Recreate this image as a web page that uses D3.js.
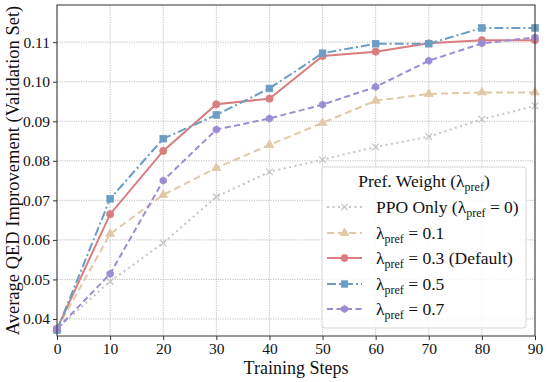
<!DOCTYPE html>
<html>
<head>
<meta charset="utf-8">
<script src="https://cdn.jsdelivr.net/npm/d3@7"></script>
<style>
body { margin: 0; background: #fff; }
text { font-family: "Liberation Serif", "DejaVu Serif", serif; fill: #111; }
</style>
</head>
<body>
<svg></svg>
<script>
var steps = [0, 10, 20, 30, 40, 50, 60, 70, 80, 90];
var ppoOnly = [0.0375, 0.0495, 0.0592, 0.0709, 0.0772, 0.0803, 0.0835, 0.0861, 0.0905, 0.0939];
var pref01 = [0.0375, 0.0615, 0.0714, 0.0782, 0.0840, 0.0896, 0.0952, 0.0969, 0.0973, 0.0973];
var pref03 = [0.0375, 0.0665, 0.0825, 0.0943, 0.0957, 0.1065, 0.1076, 0.1097, 0.1105, 0.1105];
var pref05 = [0.0372, 0.0704, 0.0856, 0.0916, 0.0983, 0.1072, 0.1096, 0.1096, 0.1136, 0.1136];
var pref07 = [0.0375, 0.0514, 0.0750, 0.0879, 0.0907, 0.0942, 0.0987, 0.1053, 0.1097, 0.1112];
var xTicks = [0, 10, 20, 30, 40, 50, 60, 70, 80, 90];
var yTicks = [0.04, 0.05, 0.06, 0.07, 0.08, 0.09, 0.10, 0.11];

var series = [
	{ name: 'ppo', values: ppoOnly, color: '#c4c4c4', dash: '2,3.5', marker: 'x', label: ['PPO Only (', '0)'] },
	{ name: 'p01', values: pref01, color: '#e0c9a6', dash: '7,4', marker: 'tri', label: ['', '0.1'] },
	{ name: 'p03', values: pref03, color: '#d97d7f', dash: null, marker: 'circle', label: ['', '0.3 (Default)'] },
	{ name: 'p05', values: pref05, color: '#6c9dc4', dash: '9,3,2,3', marker: 'square', label: ['', '0.5'] },
	{ name: 'p07', values: pref07, color: '#9c8cd3', dash: '6,3.5', marker: 'hex', label: ['', '0.7'] }
];

var width = 548, height = 382;
var padding = { top: 5, bottom: 46, left: 57, right: 13 };

var svg = d3.select('svg').attr('width', width).attr('height', height);

var xScale = d3.scaleLinear().domain([0, 90]).range([padding.left, width - padding.right]);
var yScale = d3.scaleLinear().domain([0.0357, 0.1194]).range([height - padding.bottom, padding.top]);

// grid
var grid = svg.append('g');
grid.selectAll('.gx').data(xTicks).enter().append('line')
	.attr('x1', d => xScale(d)).attr('x2', d => xScale(d))
	.attr('y1', padding.top).attr('y2', height - padding.bottom)
	.attr('stroke', '#b8b8b8').attr('stroke-width', 0.9).attr('stroke-dasharray', '1.2,1.2');
grid.selectAll('.gy').data(yTicks).enter().append('line')
	.attr('x1', padding.left).attr('x2', width - padding.right)
	.attr('y1', d => yScale(d)).attr('y2', d => yScale(d))
	.attr('stroke', '#b8b8b8').attr('stroke-width', 0.9).attr('stroke-dasharray', '1.2,1.2');

// markers
function drawMarker(g, type, color, size) {
	var s = size;
	if (type === 'x') {
		g.append('path').attr('d', 'M' + (-s) + ',' + (-s) + 'L' + s + ',' + s + 'M' + (-s) + ',' + s + 'L' + s + ',' + (-s))
			.attr('stroke', color).attr('stroke-width', 1.2).attr('fill', 'none');
	} else if (type === 'tri') {
		g.append('path').attr('d', d3.symbol(d3.symbolTriangle, 34)()).attr('fill', color).attr('stroke', color).attr('stroke-width', 0.8);
	} else if (type === 'circle') {
		g.append('circle').attr('r', s + 0.3).attr('fill', color).attr('stroke', color).attr('stroke-width', 0.8);
	} else if (type === 'square') {
		g.append('rect').attr('x', -s).attr('y', -s).attr('width', 2 * s).attr('height', 2 * s)
			.attr('fill', color).attr('stroke', color).attr('stroke-width', 0.8);
	} else if (type === 'hex') {
		var pts = d3.range(6).map(function(i) {
			var a = Math.PI / 6 + i * Math.PI / 3;
			return [Math.cos(a) * (s + 0.4), Math.sin(a) * (s + 0.4)];
		});
		g.append('path').attr('d', 'M' + pts.join('L') + 'Z').attr('fill', color).attr('stroke', color).attr('stroke-width', 0.8);
	}
}

var line = d3.line().x((d, i) => xScale(steps[i])).y(d => yScale(d));

var plot = svg.append('g');
series.forEach(function(s) {
	plot.append('path')
		.datum(s.values)
		.attr('d', line)
		.attr('fill', 'none')
		.attr('stroke', s.color)
		.attr('stroke-width', 2)
		.attr('stroke-dasharray', s.dash);
	s.values.forEach(function(v, i) {
		var g = plot.append('g').attr('transform', 'translate(' + xScale(steps[i]) + ',' + yScale(v) + ')');
		drawMarker(g, s.marker, s.color, 3.3);
	});
});

// frame
svg.append('rect')
	.attr('x', padding.left).attr('y', padding.top)
	.attr('width', width - padding.left - padding.right)
	.attr('height', height - padding.top - padding.bottom)
	.attr('fill', 'none').attr('stroke', '#333').attr('stroke-width', 1);

// x-axis
var xAxis = svg.append('g')
	.attr('transform', 'translate(0,' + (height - padding.bottom) + ')')
	.call(d3.axisBottom(xScale).tickValues(xTicks).tickSize(4).tickPadding(3));
xAxis.select('.domain').remove();
xAxis.selectAll('line').attr('stroke', '#333');
xAxis.selectAll('text').style('font-size', '15.5px').style('font-family', '"Liberation Serif", serif').attr('fill', '#111');

// y-axis
var yAxis = svg.append('g')
	.attr('transform', 'translate(' + padding.left + ',0)')
	.call(d3.axisLeft(yScale).tickValues(yTicks).tickFormat(d3.format('.2f')).tickSize(4).tickPadding(3));
yAxis.select('.domain').remove();
yAxis.selectAll('line').attr('stroke', '#333');
yAxis.selectAll('text').style('font-size', '15.5px').style('font-family', '"Liberation Serif", serif').attr('fill', '#111');

svg.append('text')
	.attr('x', (padding.left + width - padding.right) / 2)
	.attr('y', height - 8)
	.attr('text-anchor', 'middle')
	.style('font-size', '18px')
	.text('Training Steps');

svg.append('text')
	.attr('transform', 'translate(19,' + ((padding.top + height - padding.bottom) / 2) + ') rotate(-90)')
	.attr('text-anchor', 'middle')
	.style('font-size', '18.5px')
	.text('Average QED Improvement (Validation Set)');

// legend
var legend = svg.append('g');
legend.append('rect')
	.attr('x', 322).attr('y', 167).attr('width', 204).attr('height', 161)
	.attr('rx', 3)
	.attr('fill', 'rgba(255,255,255,0.85)')
	.attr('stroke', '#d6d6d6').attr('stroke-width', 1);

var title = legend.append('text').attr('x', 424).attr('y', 187).attr('text-anchor', 'middle').style('font-size', '17.5px');
title.append('tspan').text('Pref. Weight (λ');
title.append('tspan').attr('dy', 4).style('font-size', '12px').text('pref');
title.append('tspan').attr('dy', -4).text(')');

var rowY = [207, 233, 258, 284, 309];
series.forEach(function(s, i) {
	var y = rowY[i];
	legend.append('line')
		.attr('x1', 327).attr('x2', 362).attr('y1', y).attr('y2', y)
		.attr('stroke', s.color).attr('stroke-width', 2)
		.attr('stroke-dasharray', s.dash);
	var g = legend.append('g').attr('transform', 'translate(344.5,' + y + ')');
	drawMarker(g, s.marker, s.color, 3.2);
	var t = legend.append('text').attr('x', 376).attr('y', y + 5.5).style('font-size', '17.5px');
	t.append('tspan').text(s.label[0] + 'λ');
	t.append('tspan').attr('dy', 4).style('font-size', '12px').text('pref');
	t.append('tspan').attr('dy', -4).text(' = ' + s.label[1]);
});
</script>
</body>
</html>
